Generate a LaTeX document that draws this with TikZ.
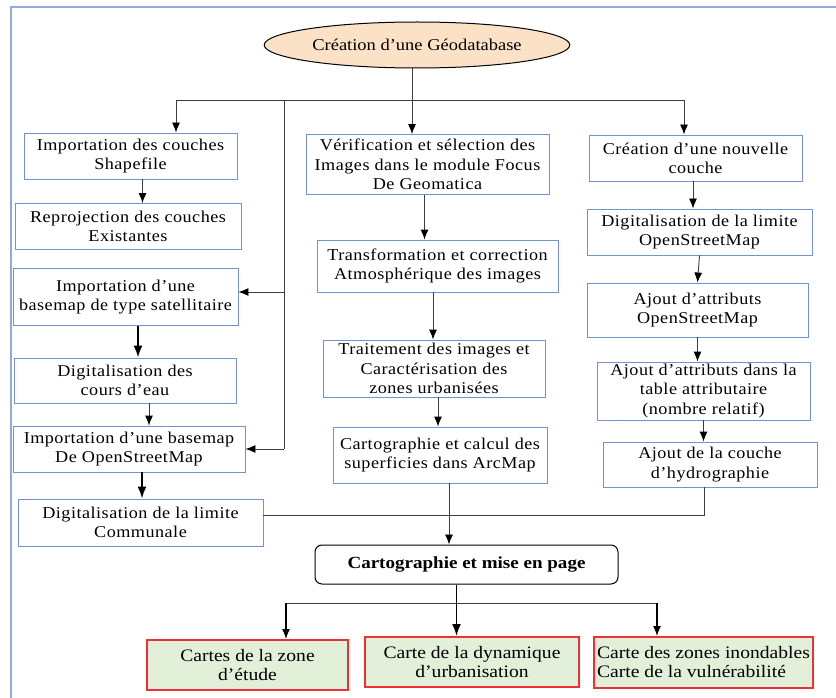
\documentclass[tikz,border=0pt]{standalone}
\usepackage{fontspec}
\setmainfont{Liberation Serif}[FakeStretch=1.12]
\newfontfamily\boitefont{Liberation Serif}[FakeStretch=1.1,LetterSpace=3]
\usetikzlibrary{arrows.meta,shapes.geometric}

\definecolor{cadrebleu}{RGB}{143,170,220}
\definecolor{bordbleu}{RGB}{118,146,204}
\definecolor{peche}{RGB}{251,226,198}
\definecolor{vertpale}{RGB}{226,239,217}
\definecolor{rougecarte}{RGB}{238,48,52}
\definecolor{trait}{RGB}{60,60,60}

\tikzset{
  etape/.style={draw=bordbleu, line width=0.9pt, fill=white, align=center, inner sep=1pt,
    font=\boitefont\fontsize{16.5}{19.3}\selectfont},
  carte/.style={draw=rougecarte, line width=2pt, fill=vertpale, align=center, inner sep=1pt,
    font=\fontsize{17.5}{19}\selectfont},
  fleche/.style={draw=trait, line width=0.9pt, -{Latex[length=10pt,width=8pt,black]}},
  grosse/.style={draw=black, line width=1.8pt, -{Latex[length=12pt,width=9pt]}},
  ligne/.style={draw=trait, line width=0.9pt},
}

\begin{document}
\begin{tikzpicture}[x=1pt,y=-1pt]
\useasboundingbox (0,0) rectangle (836,698);

% Frame
\draw[cadrebleu, line width=1.5pt] (11,698) -- (11,7) -- (836,7);

% Top
\node[ellipse, draw, fill=peche, line width=1pt, minimum width=298pt, minimum height=46pt,
  font=\fontsize{16.5}{19}\selectfont] (geodb) at (417,45) {Création d’une Géodatabase};

% Left column
\node[etape, minimum width=213pt, minimum height=46pt] (L1) at (130.5,156) {Importation des couches\\Shapefile};
\node[etape, minimum width=226pt, minimum height=46pt] (L2) at (128,226.5) {Reprojection des couches\\Existantes};
\node[etape, minimum width=225pt, minimum height=57pt] (L3) at (125.5,297) {Importation d’une\\basemap de type satellitaire};
\node[etape, minimum width=222pt, minimum height=45pt] (L4) at (125,380.5) {Digitalisation des\\cours d’eau};
\node[etape, minimum width=232pt, minimum height=46pt] (L5) at (129,449) {Importation d’une basemap\\De OpenStreetMap};
\node[etape, minimum width=245pt, minimum height=47pt] (L6) at (140.5,522.5) {Digitalisation de la limite\\Communale};

% Middle column
\node[etape, minimum width=243pt, minimum height=60pt] (M1) at (427.5,164.5) {Vérification et sélection des\\Images dans le module Focus\\De Geomatica};
\node[etape, minimum width=241pt, minimum height=52pt] (M2) at (437.5,266) {Transformation et correction\\Atmosphérique des images};
\node[etape, minimum width=222pt, minimum height=57pt] (M3) at (434,368.5) {Traitement des images et\\Caractérisation des\\zones urbanisées};
\node[etape, minimum width=214pt, minimum height=56pt] (M4) at (440,455) {Cartographie et calcul des\\superficies dans ArcMap};

% Right column
\node[etape, minimum width=213pt, minimum height=46pt] (R1) at (695.5,158) {Création d’une nouvelle\\couche};
\node[etape, minimum width=225pt, minimum height=46pt] (R2) at (699.5,232) {Digitalisation de la limite\\OpenStreetMap};
\node[etape, minimum width=221pt, minimum height=54pt] (R3) at (697.5,310) {Ajout d’attributs\\OpenStreetMap};
\node[etape, minimum width=213pt, minimum height=58pt] (R4) at (703.5,391) {Ajout d’attributs dans la\\table attributaire\\(nombre relatif)};
\node[etape, minimum width=214pt, minimum height=45pt] (R5) at (710,464.5) {Ajout de la couche\\d’hydrographie};

% Bottom
\node[draw, rounded corners=7pt, line width=1pt, minimum width=303pt, minimum height=39pt,
  font=\bfseries\fontsize{17}{19}\selectfont] (mise) at (466.5,564.5) {Cartographie et mise en page};
\node[carte, minimum width=201pt, minimum height=50pt] (B1) at (247.5,665) {Cartes de la zone\\d’étude};
\node[carte, minimum width=214pt, minimum height=50pt] (B2) at (472,662) {Carte de la dynamique\\d’urbanisation};
\node[carte, minimum width=219pt, minimum height=51pt, align=left] (B3) at (703.5,662.5) {Carte des zones inondables\\Carte de la vulnérabilité};

% Top bus
\coordinate (busG) at (176,100);
\coordinate (busD) at (684,100);
\coordinate (busV) at (284,100);
\draw[ligne] (busG) -- (busD);
\draw[fleche] ([xshift=-5pt]geodb.south) -- ([xshift=-5pt]geodb.south |- M1.north);
\draw[fleche] (busG) -- (busG |- L1.north);
\draw[fleche] (busD) -- (busD |- R1.north);
\draw[ligne] (busV) -- (busV |- L5.east);
\draw[fleche] ([yshift=5pt]busV |- L3.east) -- ([yshift=5pt]L3.east);
\draw[fleche] (busV |- L5.east) -- (L5.east);

% Left arrows
\draw[fleche] ([xshift=12pt]L1.south) -- ([xshift=12pt]L1.south |- L2.north);
\draw[grosse] ([xshift=12.5pt]L3.south) -- ([xshift=12.5pt]L3.south |- L4.north);
\draw[fleche] ([xshift=24pt]L4.south) -- ([xshift=24pt]L4.south |- L5.north);
\draw[grosse] ([xshift=13pt]L5.south) -- ([xshift=13pt]L5.south |- L6.north);

% Middle arrows
\draw[fleche] ([xshift=-3pt]M1.south) -- ([xshift=-3pt]M1.south |- M2.north);
\draw[fleche] ([xshift=-4.5pt]M2.south) -- ([xshift=-4.5pt]M2.south |- M3.north);
\draw[fleche] ([xshift=4pt]M3.south) -- ([xshift=4pt]M3.south |- M4.north);
\draw[fleche] ([xshift=9pt]M4.south) -- ([xshift=9pt]M4.south |- mise.north);

% Right arrows
\draw[fleche] ([xshift=-2.5pt]R1.south) -- ([xshift=-2.5pt]R1.south |- R2.north);
\draw[fleche] (R2.south) -- (R3.north);
\draw[fleche] (R3.south) -- (R3.south |- R4.north);
\draw[fleche] (R4.south) -- (R4.south |- R5.north);
\draw[ligne] ([xshift=-6pt]R5.south) |- ([yshift=7pt]L6.east);

% Bottom bus
\coordinate (carG) at (286,603);
\coordinate (carD) at (657,603);
\draw[ligne] (carG) -- (carD);
\draw[grosse] ([xshift=-10pt]mise.south) -- ([xshift=-10pt]mise.south |- B2.north);
\draw[fleche, draw=black, line width=1.3pt] (carG) -- (carG |- B1.north);
\draw[fleche, draw=black, line width=1.3pt] (carD) -- (carD |- B3.north);
\end{tikzpicture}
\end{document}
